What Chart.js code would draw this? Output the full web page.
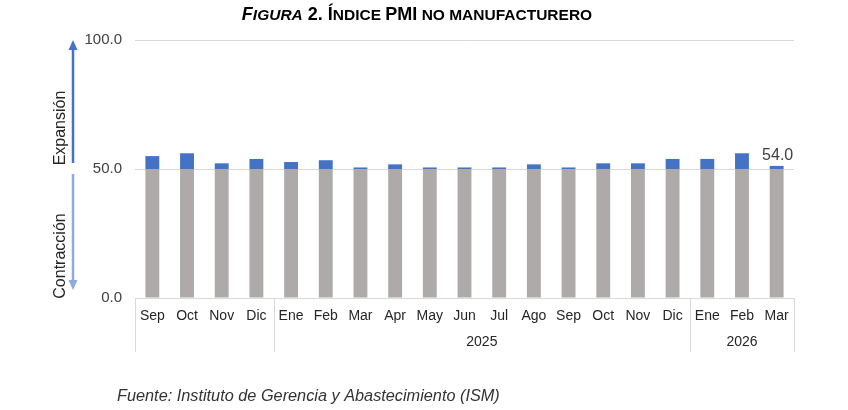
<!DOCTYPE html>
<html>
<head>
<meta charset="utf-8">
<script src="https://cdn.jsdelivr.net/npm/chart.js@4.4.1/dist/chart.umd.min.js"></script>
<style>
  html, body { margin: 0; padding: 0; background: #fff; }
  #wrap { width: 848px; height: 410px; position: relative; }
</style>
</head>
<body>
<div id="wrap"><canvas id="pmiChart" width="848" height="410"></canvas></div>
<script>
// meses y años (el primer grupo no lleva año en el original)
const months = ['Sep', 'Oct', 'Nov', 'Dic', 'Ene', 'Feb', 'Mar', 'Apr', 'May', 'Jun', 'Jul', 'Ago', 'Sep', 'Oct', 'Nov', 'Dic', 'Ene', 'Feb', 'Mar'];
const yearGroups = [
    { label: '', start: 0, end: 3 },
    { label: '2025', start: 4, end: 15 },
    { label: '2026', start: 16, end: 18 }
];
// valores del índice
const pmiValues = [55.0, 56.1, 52.2, 53.9, 52.7, 53.4, 50.6, 51.8, 50.6, 50.6, 50.6, 51.8, 50.6, 52.2, 52.2, 53.9, 53.9, 56.1, 51.2];
const lastLabel = '54.0';
const yTicks = [0, 50, 100];
const threshold = 50;

const baseValues = pmiValues.map(v => Math.min(v, threshold));
const excessValues = pmiValues.map(v => Math.max(v - threshold, 0));

const FONT = 'Arial, "Liberation Sans", sans-serif';

const decorPlugin = {
    id: 'decor',
    afterDraw(chart) {
        const ctx = chart.ctx;
        const x = chart.scales.x;
        const y = chart.scales.y;
        const area = chart.chartArea;
        const step = (area.right - area.left) / months.length;
        ctx.save();

        // separadores de grupos de años y etiquetas de año
        ctx.strokeStyle = '#d9d9d9';
        ctx.lineWidth = 1;
        const bounds = [0];
        yearGroups.forEach(g => bounds.push(g.end + 1));
        bounds.forEach(i => {
            const px = Math.round(area.left + i * step) + 0.5;
            ctx.beginPath();
            ctx.moveTo(px, area.bottom);
            ctx.lineTo(px, area.bottom + 54);
            ctx.stroke();
        });
        ctx.fillStyle = '#262626';
        ctx.font = '14px ' + FONT;
        ctx.textAlign = 'center';
        ctx.textBaseline = 'middle';
        yearGroups.forEach(g => {
            if (!g.label) return;
            const cx = area.left + (g.start + g.end + 1) / 2 * step;
            ctx.fillText(g.label, cx, area.bottom + 44);
        });

        // etiqueta del último dato
        const lastIdx = pmiValues.length - 1;
        ctx.font = '16px ' + FONT;
        ctx.fillStyle = '#404040';
        ctx.textBaseline = 'alphabetic';
        ctx.fillText(lastLabel, x.getPixelForValue(lastIdx) + 1, y.getPixelForValue(pmiValues[lastIdx]) - 6);

        // flechas de expansión / contracción
        const ax = 73;
        const yTop = y.getPixelForValue(100);
        const yMid = y.getPixelForValue(threshold);
        const yBot = y.getPixelForValue(0);
        ctx.lineWidth = 2.5;
        ctx.strokeStyle = '#4472C4';
        ctx.fillStyle = '#4472C4';
        ctx.beginPath();
        ctx.moveTo(ax, yMid - 6);
        ctx.lineTo(ax, yTop + 8);
        ctx.stroke();
        ctx.beginPath();
        ctx.moveTo(ax, yTop);
        ctx.lineTo(ax - 4.5, yTop + 10);
        ctx.lineTo(ax + 4.5, yTop + 10);
        ctx.closePath();
        ctx.fill();

        ctx.strokeStyle = '#8FAADC';
        ctx.fillStyle = '#8FAADC';
        ctx.beginPath();
        ctx.moveTo(ax, yMid + 5);
        ctx.lineTo(ax, yBot - 16);
        ctx.stroke();
        ctx.beginPath();
        ctx.moveTo(ax, yBot - 8);
        ctx.lineTo(ax - 4.5, yBot - 18);
        ctx.lineTo(ax + 4.5, yBot - 18);
        ctx.closePath();
        ctx.fill();

        ctx.fillStyle = '#262626';
        ctx.font = '16px ' + FONT;
        ctx.textAlign = 'center';
        ctx.textBaseline = 'middle';
        ctx.save();
        ctx.translate(61, 128);
        ctx.rotate(-Math.PI / 2);
        ctx.fillText('Expansión', 0, 0);
        ctx.restore();
        ctx.save();
        ctx.translate(61, 256);
        ctx.rotate(-Math.PI / 2);
        ctx.fillText('Contracción', 0, 0);
        ctx.restore();

        // título con versalitas
        const big = 'bold 18px ' + FONT;
        const bigI = 'italic bold 18px ' + FONT;
        const small = 'bold 15.5px ' + FONT;
        const smallI = 'italic bold 15.5px ' + FONT;
        const parts = [
            ['F', bigI], ['IGURA', smallI], [' 2. ', big], ['Í', big], ['NDICE ', small],
            ['PMI', big], [' NO MANUFACTURERO', small]
        ];
        let total = 0;
        parts.forEach(p => { ctx.font = p[1]; total += ctx.measureText(p[0]).width; });
        let tx = 417 - total / 2;
        ctx.fillStyle = '#000';
        ctx.textAlign = 'left';
        ctx.textBaseline = 'alphabetic';
        parts.forEach(p => {
            ctx.font = p[1];
            ctx.fillText(p[0], tx, 20);
            tx += ctx.measureText(p[0]).width;
        });

        // fuente
        ctx.font = 'italic 16.3px ' + FONT;
        ctx.fillStyle = '#333';
        ctx.fillText('Fuente: Instituto de Gerencia y Abastecimiento (ISM)', 117, 401);
        ctx.restore();
    }
};

new Chart(document.getElementById('pmiChart').getContext('2d'), {
    type: 'bar',
    data: {
        labels: months,
        datasets: [
            { label: 'Base', data: baseValues, backgroundColor: '#AEAAAA', barPercentage: 0.4, categoryPercentage: 1 },
            { label: 'Exceso', data: excessValues, backgroundColor: '#4472C4', barPercentage: 0.4, categoryPercentage: 1 }
        ]
    },
    options: {
        responsive: false,
        animation: false,
        devicePixelRatio: 1,
        layout: { padding: { left: 0, top: 40, right: 54, bottom: 0 } },
        plugins: { legend: { display: false }, tooltip: { enabled: false }, title: { display: false } },
        scales: {
            x: {
                stacked: true,
                grid: { display: false, drawTicks: false },
                border: { display: false },
                ticks: { color: '#262626', font: { size: 14, family: FONT }, padding: 10, maxRotation: 0, autoSkip: false },
                afterFit: s => { s.height = 112; }
            },
            y: {
                stacked: true,
                min: 0,
                max: 100,
                afterBuildTicks: s => { s.ticks = yTicks.map(v => ({ value: v })); },
                grid: { color: '#d9d9d9', drawTicks: false },
                border: { display: false },
                ticks: { color: '#404040', font: { size: 15, family: FONT }, padding: 13, callback: v => v.toFixed(1) },
                afterFit: s => { s.width = 135; }
            }
        }
    },
    plugins: [decorPlugin]
});
</script>
</body>
</html>
